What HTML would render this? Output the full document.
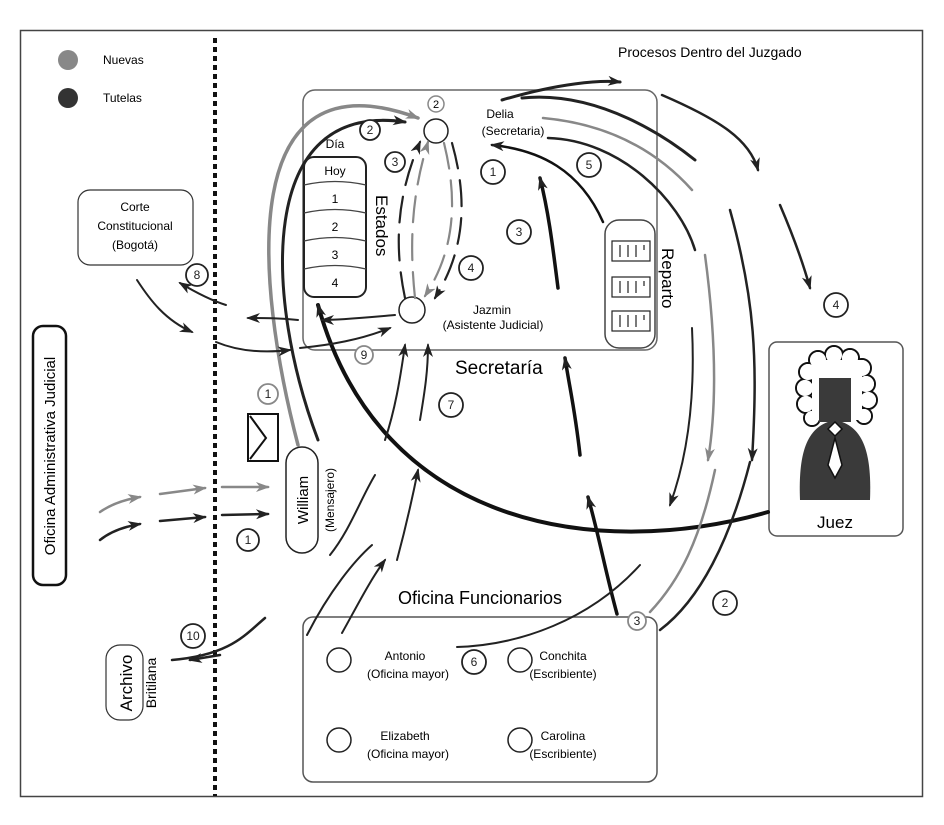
<!DOCTYPE html>
<html><head><meta charset="utf-8"><style>
html,body{margin:0;padding:0;background:#fff}
svg{display:block;font-family:"Liberation Sans",sans-serif}
</style></head><body>
<svg width="944" height="825" viewBox="0 0 944 825" xmlns="http://www.w3.org/2000/svg">
<defs>
<marker id="d" markerWidth="14" markerHeight="10" refX="12" refY="5" orient="auto" markerUnits="userSpaceOnUse"><path d="M0,0 L14,5 L0,10 L4,5z" fill="#222"/></marker>
<marker id="g" markerWidth="14" markerHeight="10" refX="12" refY="5" orient="auto" markerUnits="userSpaceOnUse"><path d="M0,0 L14,5 L0,10 L4,5z" fill="#888"/></marker>
</defs>
<rect x="20.5" y="30.5" width="902" height="766" fill="none" stroke="#444" stroke-width="1.5"/>
<line x1="215" y1="38" x2="215" y2="796" stroke="#111" stroke-width="4" stroke-dasharray="5,4"/>
<circle cx="68" cy="60" r="10" fill="#888"/><text x="103" y="64" font-size="12">Nuevas</text>
<circle cx="68" cy="98" r="10" fill="#333"/><text x="103" y="102" font-size="12">Tutelas</text>
<text x="618" y="57" font-size="14">Procesos Dentro del Juzgado</text>

<!-- Secretaria -->
<rect x="303" y="90" width="354" height="260" rx="12" fill="none" stroke="#666" stroke-width="1.5"/>
<text x="455" y="374" font-size="19">Secretaría</text>
<circle cx="436" cy="131" r="12" fill="#fff" stroke="#222" stroke-width="1.5"/>
<circle cx="436" cy="104" r="8" fill="#fff" stroke="#888" stroke-width="1.5"/><text x="436" y="108" font-size="11" text-anchor="middle">2</text>
<text x="500" y="118" font-size="12" text-anchor="middle">Delia</text>
<text x="513" y="135" font-size="12" text-anchor="middle">(Secretaria)</text>
<circle cx="412" cy="310" r="13" fill="#fff" stroke="#222" stroke-width="1.5"/>
<text x="492" y="314" font-size="12" text-anchor="middle">Jazmin</text>
<text x="493" y="329" font-size="12" text-anchor="middle">(Asistente Judicial)</text>
<text x="335" y="148" font-size="12" text-anchor="middle">Día</text>
<rect x="304" y="157" width="62" height="140" rx="10" fill="#fff" stroke="#222" stroke-width="2"/>
<g stroke="#444" fill="none" stroke-width="1.2">
<path d="M304,185 Q335,178 366,185"/><path d="M304,213 Q335,206 366,213"/><path d="M304,241 Q335,234 366,241"/><path d="M304,269 Q335,262 366,269"/>
</g>
<g font-size="12" text-anchor="middle"><text x="335" y="175">Hoy</text><text x="335" y="203">1</text><text x="335" y="231">2</text><text x="335" y="259">3</text><text x="335" y="287">4</text></g>
<text transform="translate(376,195) rotate(90)" font-size="17">Estados</text>
<rect x="605" y="220" width="50" height="128" rx="14" fill="#fff" stroke="#444" stroke-width="1.5"/>
<g fill="none" stroke="#222" stroke-width="1.2">
<rect x="612" y="241" width="38" height="20"/><rect x="612" y="277" width="38" height="20"/><rect x="612" y="311" width="38" height="20"/>
</g>
<g stroke="#222" stroke-width="1.2"><path d="M620,245v12M628,245v12M636,245v12M644,245v5M620,281v12M628,281v12M636,281v12M644,281v5M620,315v12M628,315v12M636,315v12M644,315v5"/></g>
<text transform="translate(662,248) rotate(90)" font-size="17">Reparto</text>

<!-- Juez -->
<rect x="769" y="342" width="134" height="194" rx="8" fill="#fff" stroke="#555" stroke-width="1.5"/>
<path d="M800,500 C798,450 808,425 835,420 C862,425 872,450 870,500 Z" fill="#3a3a3a"/>
<g fill="#fff" stroke="#111" stroke-width="2">
<circle cx="818" cy="360" r="9"/><circle cx="834" cy="355" r="9"/><circle cx="850" cy="358" r="9"/><circle cx="862" cy="368" r="9"/>
<circle cx="808" cy="372" r="9"/><circle cx="805" cy="388" r="9"/><circle cx="806" cy="404" r="9"/><circle cx="812" cy="418" r="8"/>
<circle cx="866" cy="384" r="9"/><circle cx="868" cy="400" r="9"/><circle cx="864" cy="416" r="8"/>
</g>
<g fill="#fff"><circle cx="818" cy="360" r="8"/><circle cx="834" cy="355" r="8"/><circle cx="850" cy="358" r="8"/><circle cx="862" cy="368" r="8"/>
<circle cx="808" cy="372" r="8"/><circle cx="805" cy="388" r="8"/><circle cx="806" cy="404" r="8"/><circle cx="812" cy="418" r="7"/>
<circle cx="866" cy="384" r="8"/><circle cx="868" cy="400" r="8"/><circle cx="864" cy="416" r="7"/>
<rect x="812" y="360" width="50" height="60"/></g>
<rect x="819" y="378" width="32" height="44" fill="#3a3a3a"/>
<path d="M835,422 L842,429 L835,436 L828,429Z M835,438 L842,465 L835,478 L828,465Z" fill="#fff" stroke="#111" stroke-width="1.5"/>
<text x="835" y="528" font-size="17" text-anchor="middle">Juez</text>

<!-- William -->
<rect x="286" y="447" width="32" height="106" rx="16" fill="#fff" stroke="#222" stroke-width="1.5"/>
<text transform="translate(308,500) rotate(-90)" font-size="15" text-anchor="middle">William</text>
<text transform="translate(334,500) rotate(-90)" font-size="12" text-anchor="middle">(Mensajero)</text>
<rect x="248" y="414" width="30" height="47" fill="#fff" stroke="#111" stroke-width="2"/>
<path d="M250,416 L266,438 L250,459" fill="none" stroke="#111" stroke-width="2"/>

<!-- Corte -->
<rect x="78" y="190" width="115" height="75" rx="12" fill="#fff" stroke="#333" stroke-width="1.2"/>
<g font-size="12" text-anchor="middle"><text x="135" y="211">Corte</text><text x="135" y="230">Constitucional</text><text x="135" y="249">(Bogotá)</text></g>
<!-- Oficina Admin -->
<rect x="33" y="326" width="33" height="259" rx="10" fill="#fff" stroke="#111" stroke-width="2.5"/>
<text transform="translate(55,456) rotate(-90)" font-size="15" text-anchor="middle">Oficina Administrativa Judicial</text>
<!-- Archivo -->
<rect x="106" y="645" width="37" height="75" rx="14" fill="#fff" stroke="#333" stroke-width="1.2"/>
<text transform="translate(132,683) rotate(-90)" font-size="17" text-anchor="middle">Archivo</text>
<text transform="translate(156,683) rotate(-90)" font-size="14" text-anchor="middle">Britilana</text>

<!-- Funcionarios -->
<rect x="303" y="617" width="354" height="165" rx="10" fill="none" stroke="#555" stroke-width="1.5"/>
<text x="480" y="604" font-size="18" text-anchor="middle">Oficina Funcionarios</text>
<g fill="#fff" stroke="#222" stroke-width="1.5"><circle cx="339" cy="660" r="12"/><circle cx="520" cy="660" r="12"/><circle cx="339" cy="740" r="12"/><circle cx="520" cy="740" r="12"/></g>
<g font-size="12" text-anchor="middle">
<text x="405" y="660">Antonio</text><text x="408" y="678">(Oficina mayor)</text>
<text x="563" y="660">Conchita</text><text x="563" y="678">(Escribiente)</text>
<text x="405" y="740">Elizabeth</text><text x="408" y="758">(Oficina mayor)</text>
<text x="563" y="740">Carolina</text><text x="563" y="758">(Escribiente)</text>
</g>

<!-- arrows -->
<g fill="none" stroke-linecap="round">
<path d="M298,445 C255,280 235,50 418,118" stroke="#888" stroke-width="3.5" marker-end="url(#g)"/>
<path d="M318,440 C265,300 255,100 405,122" stroke="#222" stroke-width="3" marker-end="url(#d)"/>
<path d="M768,512 C600,560 380,530 318,305" stroke="#111" stroke-width="4" marker-end="url(#d)"/>
<path d="M502,100 C560,83 600,80 620,82" stroke="#222" stroke-width="3" marker-end="url(#d)"/>
<path d="M522,98 C600,90 670,140 695,160" stroke="#222" stroke-width="3"/>
<path d="M662,95 C720,120 750,140 758,170" stroke="#222" stroke-width="2.5" marker-end="url(#d)"/>
<path d="M780,205 C795,240 805,270 810,288" stroke="#222" stroke-width="2.5" marker-end="url(#d)"/>
<path d="M543,118 C620,125 665,160 692,190" stroke="#888" stroke-width="2.5"/>
<path d="M548,138 C620,140 680,200 695,250" stroke="#222" stroke-width="2.5"/>
<path d="M730,210 C755,300 758,360 752,460" stroke="#222" stroke-width="2.5" marker-end="url(#d)"/>
<path d="M705,255 C715,330 718,400 708,460" stroke="#888" stroke-width="2.5" marker-end="url(#g)"/>
<path d="M692,328 C695,390 690,450 670,505" stroke="#222" stroke-width="2" marker-end="url(#d)"/>
<path d="M715,470 C700,540 680,580 650,612" stroke="#888" stroke-width="2.5"/>
<path d="M750,462 C730,540 700,600 660,630" stroke="#222" stroke-width="2.5"/>
<path d="M603,222 C580,170 540,150 492,145" stroke="#111" stroke-width="2.5" marker-end="url(#d)"/>
<path d="M558,288 C552,240 548,210 540,178" stroke="#111" stroke-width="3.5" marker-end="url(#d)"/>
<path d="M580,455 C575,410 570,390 565,358" stroke="#111" stroke-width="3.5" marker-end="url(#d)"/>
<path d="M617,614 C605,570 600,540 588,497" stroke="#111" stroke-width="3.5" marker-end="url(#d)"/>
<path d="M640,565 C590,620 520,645 457,647" stroke="#222" stroke-width="2"/>
<!-- estados internal -->
<path d="M405,298 C395,250 395,200 420,142" stroke="#222" stroke-width="2.2" stroke-dasharray="26,12" marker-end="url(#d)"/>
<path d="M415,298 C410,250 410,200 428,142" stroke="#888" stroke-width="2.2" stroke-dasharray="26,12" marker-end="url(#g)"/>
<path d="M444,143 C458,200 455,250 425,296" stroke="#888" stroke-width="2.2" stroke-dasharray="26,12" marker-end="url(#g)"/>
<path d="M452,143 C468,200 465,250 435,298" stroke="#222" stroke-width="2.2" stroke-dasharray="26,12" marker-end="url(#d)"/>
<!-- left side -->
<path d="M395,315 C360,318 340,320 322,320" stroke="#222" stroke-width="2" marker-end="url(#d)"/>
<path d="M298,320 C280,318 265,318 248,318" stroke="#222" stroke-width="2" marker-end="url(#d)"/>
<path d="M226,305 C210,300 195,292 180,283" stroke="#222" stroke-width="2" marker-end="url(#d)"/>
<path d="M137,280 C150,300 165,320 192,332" stroke="#222" stroke-width="2" marker-end="url(#d)"/>
<path d="M216,342 C240,352 265,353 290,350" stroke="#222" stroke-width="2" marker-end="url(#d)"/>
<path d="M300,348 C330,345 360,340 390,328" stroke="#222" stroke-width="2" marker-end="url(#d)"/>
<path d="M100,512 C110,505 122,500 140,497" stroke="#888" stroke-width="2.5" marker-end="url(#g)"/>
<path d="M160,494 L205,488" stroke="#888" stroke-width="2.5" marker-end="url(#g)"/>
<path d="M222,487 L268,487" stroke="#888" stroke-width="2.5" marker-end="url(#g)"/>
<path d="M100,540 C110,532 122,527 140,524" stroke="#222" stroke-width="2.5" marker-end="url(#d)"/>
<path d="M160,521 L205,517" stroke="#222" stroke-width="2.5" marker-end="url(#d)"/>
<path d="M222,515 L268,514" stroke="#222" stroke-width="2.5" marker-end="url(#d)"/>
<!-- 7 / 10 -->
<path d="M342,633 C355,610 370,580 385,560" stroke="#222" stroke-width="2" marker-end="url(#d)"/>
<path d="M330,555 C350,530 360,500 375,475" stroke="#222" stroke-width="2"/>
<path d="M385,440 C395,410 400,380 405,345" stroke="#222" stroke-width="2" marker-end="url(#d)"/>
<path d="M307,635 C330,590 355,560 372,545" stroke="#222" stroke-width="2"/>
<path d="M397,560 C405,530 412,500 418,470" stroke="#222" stroke-width="2" marker-end="url(#d)"/>
<path d="M420,420 C425,390 428,370 428,345" stroke="#222" stroke-width="2" marker-end="url(#d)"/>
<path d="M265,618 C245,635 230,655 172,660" stroke="#222" stroke-width="2.5"/>
<path d="M220,655 L190,660" stroke="#222" stroke-width="2.5" marker-end="url(#d)"/>
</g>

<!-- numbers -->
<g font-size="12" text-anchor="middle" fill="#fff" stroke-width="1.8">
<g stroke="#222"><circle cx="248" cy="540" r="11"/><circle cx="370" cy="130" r="10"/><circle cx="395" cy="162" r="10"/><circle cx="493" cy="172" r="12"/><circle cx="589" cy="165" r="12"/><circle cx="519" cy="232" r="12"/><circle cx="471" cy="268" r="12"/><circle cx="197" cy="275" r="11"/><circle cx="451" cy="405" r="12"/><circle cx="836" cy="305" r="12"/><circle cx="725" cy="603" r="12"/><circle cx="474" cy="662" r="12"/><circle cx="193" cy="636" r="12"/></g>
<g stroke="#888"><circle cx="268" cy="394" r="10"/><circle cx="364" cy="355" r="9"/><circle cx="637" cy="621" r="9"/></g>
</g>
<g font-size="12" text-anchor="middle" fill="#222">
<text x="248" y="544">1</text><text x="370" y="134">2</text><text x="395" y="166">3</text><text x="493" y="176">1</text><text x="589" y="169">5</text><text x="519" y="236">3</text><text x="471" y="272">4</text><text x="197" y="279">8</text><text x="451" y="409">7</text><text x="836" y="309">4</text><text x="725" y="607">2</text><text x="474" y="666">6</text><text x="193" y="640">10</text>
<text x="268" y="398">1</text><text x="364" y="359">9</text><text x="637" y="625">3</text>
</g>
</svg>
</body></html>
